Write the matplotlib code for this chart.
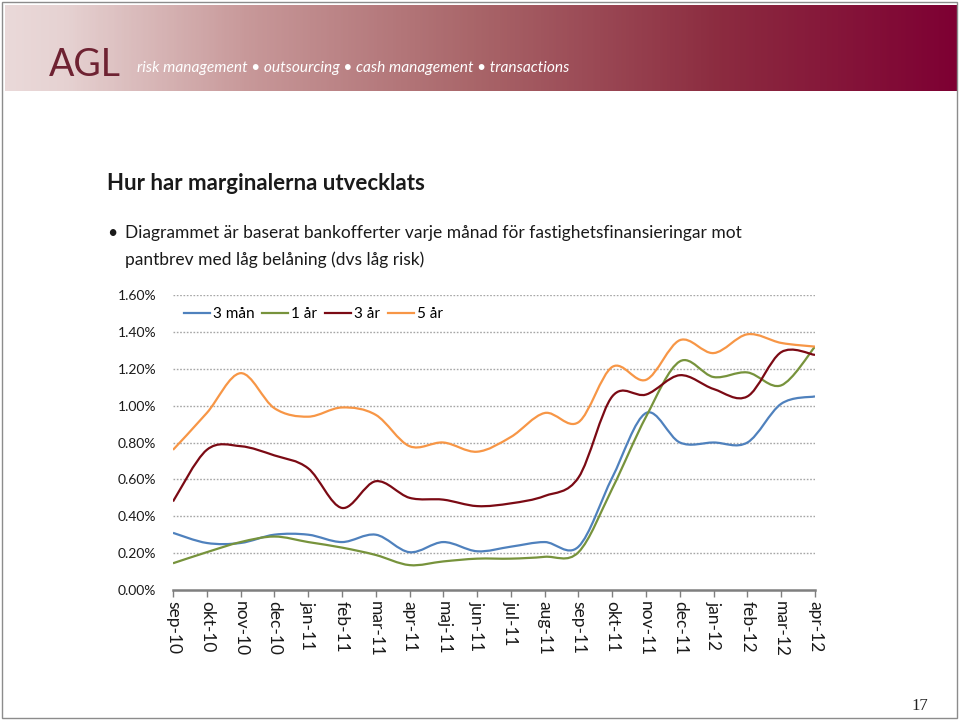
import matplotlib
matplotlib.use("agg")
import matplotlib.pyplot as plt
import numpy as np
from matplotlib.path import Path
from matplotlib.patches import PathPatch, Rectangle
from matplotlib.lines import Line2D
from matplotlib.colors import LinearSegmentedColormap

plt.rcParams["font.family"] = ["Lato", "DejaVu Sans"]

# --- data (percent) ---
months = ["sep-10", "okt-10", "nov-10", "dec-10", "jan-11", "feb-11", "mar-11",
          "apr-11", "maj-11", "jun-11", "jul-11", "aug-11", "sep-11", "okt-11",
          "nov-11", "dec-11", "jan-12", "feb-12", "mar-12", "apr-12"]
m3 = [0.31, 0.255, 0.255, 0.30, 0.30, 0.26, 0.30, 0.205, 0.26, 0.21,
      0.235, 0.26, 0.235, 0.61, 0.96, 0.80, 0.80, 0.80, 1.01, 1.05]
y1 = [0.145, 0.205, 0.26, 0.29, 0.26, 0.23, 0.19, 0.135, 0.155, 0.17,
      0.17, 0.18, 0.205, 0.55, 0.94, 1.24, 1.155, 1.18, 1.11, 1.32]
y3 = [0.48, 0.76, 0.78, 0.73, 0.66, 0.445, 0.59, 0.50, 0.49, 0.455,
      0.47, 0.51, 0.61, 1.05, 1.06, 1.165, 1.09, 1.05, 1.29, 1.275]
y5 = [0.76, 0.96, 1.176, 0.986, 0.94, 0.99, 0.95, 0.78, 0.80, 0.75,
      0.83, 0.96, 0.91, 1.21, 1.14, 1.355, 1.285, 1.387, 1.34, 1.32]
series_names = ["3 mån", "1 år", "3 år", "5 år"]
series_vals = [m3, y1, y3, y5]
colors = ["#4f81bd", "#77933c", "#7b0a14", "#f79646"]
yticks = [0.0, 0.2, 0.4, 0.6, 0.8, 1.0, 1.2, 1.4, 1.6]


def smooth_path(x, y):
    # Excel-like smoothed line: cubic bezier segments (Catmull-Rom tangents)
    pts = np.column_stack([x, y]).astype(float)
    n = len(pts)
    verts = [pts[0]]
    codes = [Path.MOVETO]
    for i in range(n - 1):
        p0 = pts[max(i - 1, 0)]
        p1 = pts[i]
        p2 = pts[i + 1]
        p3 = pts[min(i + 2, n - 1)]
        c1 = p1 + (p2 - p0) / 6.0
        c2 = p2 - (p3 - p1) / 6.0
        verts += [c1, c2, p2]
        codes += [Path.CURVE4] * 3
    return Path(verts, codes)


fig = plt.figure(figsize=(9.6, 7.2), dpi=100)

def fx(px):
    return px / 960.0

def fy(py):
    return 1 - py / 720.0

# --- header banner ---
bax = fig.add_axes([fx(5), fy(91), fx(953), (91 - 5) / 720.0])
cmap = LinearSegmentedColormap.from_list(
    "agl", [(0.0, "#ead9d9"), (0.06, "#e6d2d2"), (0.25, "#c8999a"),
            (0.5, "#a86468"), (0.75, "#8c2c40"), (1.0, "#7e0033")])
bax.imshow(np.linspace(0, 1, 400)[None, :], aspect="auto", cmap=cmap,
           extent=[0, 1, 0, 1])
bax.set_axis_off()

fig.text(fx(49), fy(76), "AGL", fontsize=27, color="#6e2232",
         va="baseline", ha="left")
fig.text(fx(137), fy(72), "risk management \u2022 outsourcing \u2022 cash management \u2022 transactions",
         fontsize=11.2, color="white", style="italic", va="baseline", ha="left")

# slide border
fig.patches.append(Rectangle((fx(2), fy(718)), fx(955), (716) / 720.0,
                             transform=fig.transFigure, fill=False,
                             edgecolor="#8c8c8c", linewidth=1.0))

# --- title and bullet text ---
fig.text(fx(107), fy(190), "Hur har marginalerna utvecklats", fontsize=16,
         fontweight="bold", color="#1a1a1a", va="baseline")
fig.text(fx(107), fy(238), "\u2022", fontsize=12.5, color="#1a1a1a", va="baseline")
fig.text(fx(125), fy(238),
         "Diagrammet är baserat bankofferter varje månad för fastighetsfinansieringar mot",
         fontsize=12.5, color="#1a1a1a", va="baseline")
fig.text(fx(125), fy(265), "pantbrev med låg belåning (dvs låg risk)",
         fontsize=12.5, color="#1a1a1a", va="baseline")

fig.text(fx(911), fy(710), "17", fontsize=12, color="#222222",
         family="Liberation Serif", va="baseline")

# --- chart ---
ax = fig.add_axes([fx(173), fy(590), fx(815 - 173), (590 - 295) / 720.0])
xs = np.arange(len(months))
for vals, c in zip(series_vals, colors):
    ax.add_patch(PathPatch(smooth_path(xs, vals), facecolor="none",
                           edgecolor=c, linewidth=1.6, zorder=3))

ax.set_xlim(0, len(months) - 1)
ax.set_ylim(0, 1.6)
ax.set_yticks(yticks)
ax.set_yticklabels([f"{v:.2f}%" for v in yticks], fontsize=10, color="#1a1a1a")
ax.set_xticks(xs)
ax.set_xticklabels(months, rotation=270, fontsize=12.5, color="#1a1a1a")
for v in yticks[1:]:
    ax.axhline(v, color="#a6a6a6", linewidth=1.0, linestyle=(0, (1.2, 1.2)),
               zorder=1)
for s in ["top", "right", "left"]:
    ax.spines[s].set_visible(False)
ax.spines["bottom"].set_color("#7f7f7f")
ax.spines["bottom"].set_linewidth(1.8)
ax.tick_params(axis="y", length=0, pad=12)
ax.tick_params(axis="x", length=5, width=1.0, color="#7f7f7f", direction="out", pad=3)

handles = [Line2D([], [], color=c, linewidth=1.6) for c in colors]
fig.legend(handles, series_names, loc="center left",
           bbox_to_anchor=(fx(184), fy(314)), ncol=4, frameon=False,
           fontsize=11, handlelength=1.7, handletextpad=0.2,
           columnspacing=0.5, borderaxespad=0, borderpad=0)

fig.savefig("out.png", dpi=100)
